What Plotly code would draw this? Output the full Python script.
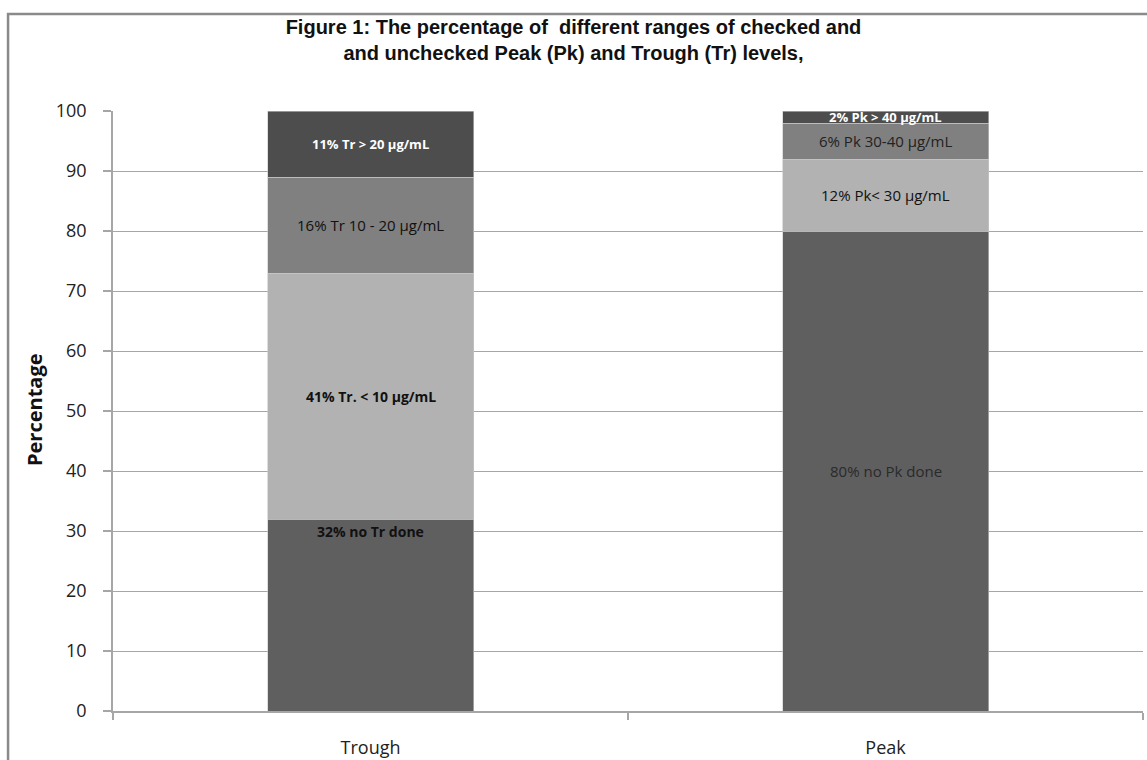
import plotly.graph_objects as go

# Categories and stacked segment values (percent)
categories = ["Trough", "Peak"]
layer_no_test = [32, 80]
layer_low = [41, 12]
layer_mid = [16, 6]
layer_high = [11, 2]

labels_no_test = ["32% no Tr done", "80% no Pk done"]
labels_low = ["41% Tr. < 10 μg/mL", "12% Pk< 30 μg/mL"]
labels_mid = ["16% Tr 10 - 20 μg/mL", "6% Pk 30-40 μg/mL"]
labels_high = ["11% Tr > 20 μg/mL", "2% Pk > 40 μg/mL"]

y_ticks = list(range(0, 101, 10))

layers = [layer_no_test, layer_low, layer_mid, layer_high]
layer_labels = [labels_no_test, labels_low, labels_mid, labels_high]
layer_colors = ["#5f5f5f", "#b2b2b2", "#808080", "#4d4d4d"]

# Per-label text styling: (color, bold, size)
label_styles = [
    [("#111111", True, 14), ("#2a2a2a", False, 15)],
    [("#111111", True, 14), ("#111111", False, 15)],
    [("#111111", False, 15), ("#222222", False, 15)],
    [("#ffffff", True, 13), ("#ffffff", True, 13)],
]

fig = go.Figure()
for vals, col in zip(layers, layer_colors):
    fig.add_trace(go.Bar(
        x=categories, y=vals,
        marker=dict(color=col, line=dict(color="#c8c8c8", width=0.6)),
        hoverinfo="skip", showlegend=False,
    ))

# Segment labels placed from the cumulative stack
base = [0, 0]
for li, (vals, labs) in enumerate(zip(layers, layer_labels)):
    for ci, cat in enumerate(categories):
        mid = base[ci] + vals[ci] / 2
        if li == 0 and ci == 0:
            mid = base[ci] + vals[ci] - 2  # this label sits near the top of its segment
        color, bold, size = label_styles[li][ci]
        text = f"<b>{labs[ci]}</b>" if bold else labs[ci]
        fig.add_annotation(
            x=cat, y=mid, xref="x", yref="y", text=text, showarrow=False,
            font=dict(family="Open Sans, Liberation Sans, sans-serif", size=size, color=color),
        )
    base = [b + v for b, v in zip(base, vals)]

# Y axis title
fig.add_annotation(
    xref="paper", yref="paper", x=-0.0757, y=0.5017, textangle=-90,
    xanchor="center", yanchor="middle",
    text="<b>Percentage</b>", showarrow=False,
    font=dict(family="Open Sans, Liberation Sans, sans-serif", size=20, color="#111111"),
)

# Outer chart frame
fig.add_shape(
    type="rect", xref="paper", yref="paper",
    x0=-0.1019, y0=-0.25, x1=1.02, y1=1.1617,
    line=dict(color="#8a8a8a", width=2.5), fillcolor="rgba(0,0,0,0)", layer="below",
)

fig.update_layout(
    width=1147, height=760,
    margin=dict(l=113, r=4, t=111, b=49),
    paper_bgcolor="white", plot_bgcolor="white",
    barmode="stack", bargap=0.6,
    title=dict(
        text="<b>Figure 1: The percentage of  different ranges of checked and<br>and unchecked Peak (Pk) and Trough (Tr) levels,</b>",
        x=0.5, xanchor="center", y=0.955, yanchor="middle",
        font=dict(family="Liberation Sans, Arial, sans-serif", size=20, color="#111111"),
    ),
    xaxis=dict(
        type="category", tickson="boundaries", ticks="outside", ticklen=7,
        tickcolor="#a6a6a6", tickwidth=1.5, showgrid=False,
        showline=True, linecolor="#a6a6a6", linewidth=1.5,
        tickfont=dict(family="Open Sans, DejaVu Sans, sans-serif", size=18, color="#222222"),
        ticklabelstandoff=20, automargin=False,
    ),
    yaxis=dict(
        range=[0, 100], tickvals=y_ticks, ticks="outside", ticklen=8,
        tickcolor="#a6a6a6", tickwidth=1.5,
        showgrid=True, gridcolor="#a6a6a6", gridwidth=1.2,
        showline=True, linecolor="#a6a6a6", linewidth=1.5,
        zeroline=False, automargin=False,
        tickfont=dict(family="Open Sans, DejaVu Sans, sans-serif", size=18, color="#222222"),
        ticklabelstandoff=13,
    ),
)

fig.write_html("out.html")
